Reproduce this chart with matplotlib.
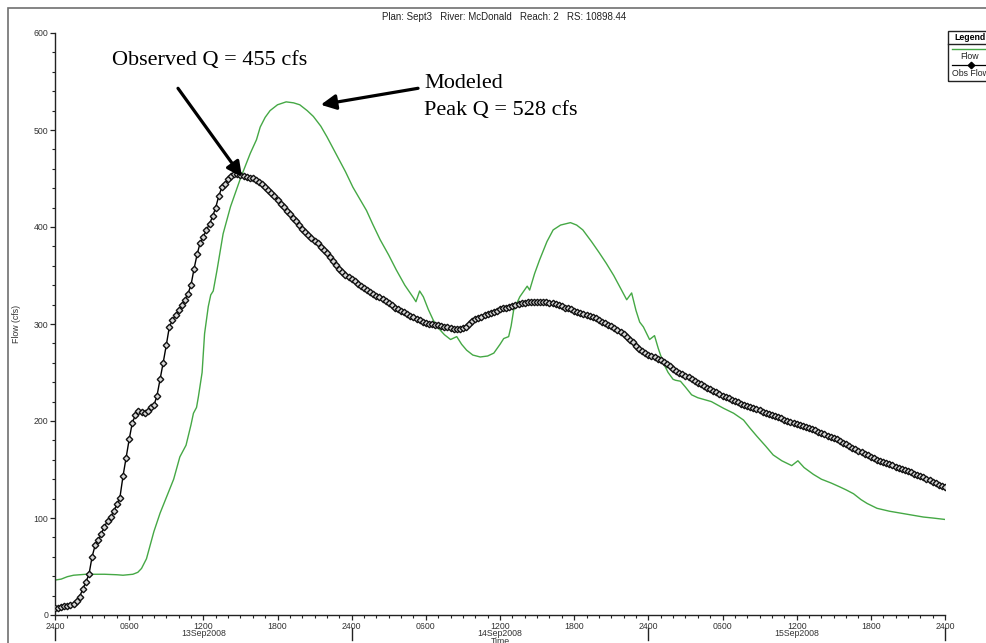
"""Observed vs modeled hydrograph, McDonald reach 2 (HEC-RAS style)."""
import matplotlib
matplotlib.use('Agg')
import matplotlib.pyplot as plt
import matplotlib.transforms as mtransforms
from matplotlib.patches import Rectangle
from matplotlib.lines import Line2D

SANS = 'Liberation Sans'
SERIF = 'Liberation Serif'

# Observed flow, 15-minute values from 13Sep2008 0000 (cfs)
obs_flow = [
    7, 7.5, 8, 9, 9.5, 10, 11, 14, 19, 27, 34, 42,
    60, 72, 77, 84, 91, 97, 101, 107, 114, 121, 143, 162,
    181, 198, 206, 210, 209, 208, 210, 214, 216, 226, 243, 260,
    278, 297, 304, 309, 314, 320, 325, 331, 340, 357, 372, 384,
    390, 397, 403, 411, 420, 432, 441, 444, 449, 453, 455, 455,
    454, 453, 452, 451, 450, 448, 446, 444, 441, 438, 435, 432,
    428, 424, 421, 417, 413, 409, 406, 402, 398, 395, 392, 389,
    386, 383, 379, 376, 373, 369, 365, 361, 357, 354, 351, 348,
    346, 344, 341, 339, 337, 335, 333, 331, 329, 328, 326, 324,
    322, 320, 317, 315, 313, 312, 310, 308, 307, 305, 304, 302,
    301, 300, 300, 299, 299, 298, 297, 297, 296, 295, 295, 295,
    296, 297, 300, 303, 305, 306, 307, 309, 310, 311, 312, 313,
    315, 316, 317, 318, 319, 320, 321, 322, 322, 323, 323, 323,
    323, 323, 323, 323, 322, 322, 321, 320, 319, 317, 316, 315,
    313, 312, 311, 310, 309, 308, 307, 306, 304, 302, 301, 299,
    298, 296, 294, 292, 290, 287, 284, 281, 277, 274, 272, 270,
    268, 267, 266, 264, 263, 261, 259, 257, 254, 252, 250, 248,
    246, 245, 243, 241, 239, 238, 236, 234, 233, 231, 230, 228,
    226, 225, 224, 222, 221, 220, 218, 217, 215, 214, 213, 212,
    211, 209, 208, 207, 206, 205, 204, 203, 201, 200, 199, 198,
    197, 196, 195, 194, 193, 192, 191, 189, 188, 187, 185, 184,
    182, 181, 179, 177, 176, 174, 172, 171, 169, 168, 166, 165,
    163, 162, 160, 159, 158, 157, 156, 155, 153, 152, 151, 150,
    148, 147, 145, 144, 143, 142, 140, 139, 137, 136, 134, 133,
    132,
]
obs_hours = [i * 0.25 for i in range(len(obs_flow))]

# Modeled flow (hours from 13Sep2008 0000, cfs)
mod_hours = [
    0, 0.5, 1.0, 1.5, 2.5, 4.0, 5.0, 5.5, 6.3, 6.7, 7.0, 7.4, 7.7, 8.0, 8.5,
    9.0, 9.6, 10.1, 10.6, 11.0, 11.2, 11.45, 11.6, 11.9, 12.1, 12.4, 12.6,
    12.8, 13.1, 13.6, 14.2, 15.0, 15.8, 16.3, 16.6, 17.0, 17.4, 18.0, 18.7,
    19.3, 19.8, 20.4, 20.9, 21.5, 22.0, 22.5, 23.0, 23.5, 24.1, 24.6, 25.2,
    25.7, 26.3, 27.0, 27.6, 28.3, 29.0, 29.2, 29.5, 29.8, 30.2, 30.6, 31.0,
    31.5, 32.0, 32.5, 32.9, 33.3, 33.8, 34.4, 35.0, 35.5, 36.0, 36.3, 36.7,
    36.9, 37.1, 37.6, 38.2, 38.4, 38.8, 39.2, 39.8, 40.3, 40.9, 41.7, 42.2,
    42.7, 43.4, 44.0, 44.6, 45.2, 45.7, 46.25, 46.65, 47.0, 47.3, 47.6, 48.1,
    48.5, 48.8, 49.2, 49.6, 50.0, 50.2, 50.6, 51.0, 51.5, 52.0, 53.1, 54.1,
    54.9, 55.7, 56.2, 56.8, 57.5, 58.1, 58.8, 59.6, 60.1, 60.6, 61.35, 62.0,
    62.8, 63.5, 64.0, 64.6, 65.2, 65.7, 66.5, 67.5, 68.4, 69.3, 70.25, 71.0,
    72.0,
]
mod_flow = [
    36, 37, 39.5, 41, 42, 42, 41.5, 41, 42, 44, 48, 58, 72, 86, 105,
    121, 140, 163, 175, 196, 208, 214, 225, 250, 290, 318, 330,
    334, 355, 393, 421, 450, 476, 490, 503, 513, 520, 526, 529,
    528, 526, 520, 514, 504, 493, 481, 469, 457, 441, 430, 417,
    403, 387, 371, 356, 340, 327, 323, 334, 328, 315, 304, 296,
    289, 284, 287, 279, 273, 268, 266, 267, 270, 279, 285, 287,
    298, 314, 328, 339, 335, 352, 366, 385, 397, 402, 404.5, 402,
    397, 385, 374, 362.5, 350, 338, 325, 332, 314, 302, 297, 284,
    288, 275, 260, 250, 243, 242, 241, 235, 227, 224, 220, 213,
    208, 201, 193, 184, 174, 165, 159, 154, 159, 152, 145, 140,
    136, 132, 129, 125, 119, 115, 110, 107, 105, 103, 101, 100,
    98.5,
]

tick_hours = list(range(0, 73, 6))
tick_labels = ['2400', '0600', '1200', '1800'] * 3 + ['2400']
day_labels = ['13Sep2008', '14Sep2008', '15Sep2008']
day_centers = [12, 36, 60]
day_bounds = [0, 24, 48, 72]

W, H = 986, 643
fig = plt.figure(figsize=(W / 100, H / 100), dpi=100)
ax = fig.add_axes([55 / W, 1 - 615 / H, 890 / W, 582 / H])

# outer frame
fig.patches.append(Rectangle((8 / W, -0.1), 1.2, 1 - 8 / H + 0.1,
                             transform=fig.transFigure, fill=False,
                             edgecolor='#707070', linewidth=1.2))

ax.plot(mod_hours, mod_flow, color='#45a845', linewidth=1.0, zorder=2)
ax.plot(obs_hours, obs_flow, color='black', linewidth=1.0, marker='D',
        markersize=3.3, markerfacecolor='#d8d8d8', markeredgecolor='#111111',
        markeredgewidth=1.0, zorder=3)

ax.set_xlim(0, 72)
ax.set_ylim(0, 600)
for s in ['top', 'right']:
    ax.spines[s].set_visible(False)
for s in ['left', 'bottom']:
    ax.spines[s].set_color('#222222')
    ax.spines[s].set_linewidth(1.0)

ax.set_xticks(tick_hours)
ax.set_xticklabels(tick_labels, fontsize=6.3, family=SANS, color='#333333')
ax.set_xticks(range(0, 73), minor=True)
ax.set_yticks(range(0, 601, 100))
ax.set_yticklabels([str(v) for v in range(0, 601, 100)], fontsize=6.3,
                   family=SANS, color='#333333')
ax.set_yticks(range(0, 601, 20), minor=True)
ax.tick_params(which='major', length=3.8, width=0.9, color='#222222', pad=1)
ax.tick_params(which='minor', length=2.4, width=0.8, color='#222222')

ax.set_ylabel('Flow (cfs)', fontsize=6.3, family=SANS, color='#333333')
ax.yaxis.set_label_coords(-34 / 890, 0.5)

# date labels and long day ticks under the axis
bt = mtransforms.blended_transform_factory(ax.transData, fig.transFigure)
for c, lab in zip(day_centers, day_labels):
    ax.text(c, 1 - 634 / H, lab, transform=bt, ha='center', va='center',
            fontsize=6.3, family=SANS, color='#333333')
for b in day_bounds:
    ax.add_line(Line2D([b, b], [1 - 628 / H, 1 - 640 / H], transform=bt,
                       color='#222222', linewidth=1.0, clip_on=False))
ax.text(36, 1 - 641 / H, 'Time', transform=bt, ha='center', va='center',
        fontsize=6.3, family=SANS, color='#333333')

fig.text(504 / W, 1 - 17 / H,
         'Plan: Sept3   River: McDonald   Reach: 2   RS: 10898.44',
         ha='center', va='center', fontsize=7, family=SANS, color='#222222')

# annotations
ax.text(4.6, 572, 'Observed Q = 455 cfs', fontsize=16, family=SERIF,
        ha='left', va='center')
ax.text(29.85, 548, 'Modeled', fontsize=16, family=SERIF,
        ha='left', va='center')
ax.text(29.85, 520.6, 'Peak Q = 528 cfs', fontsize=16, family=SERIF,
        ha='left', va='center')
arrow = dict(arrowstyle='-|>,head_length=0.9,head_width=0.45', color='black',
             linewidth=2.3, shrinkA=0, shrinkB=0)
ax.annotate('', xy=(15.13, 451.5), xytext=(9.95, 543), arrowprops=arrow)
ax.annotate('', xy=(21.5, 526), xytext=(29.37, 543), arrowprops=arrow)

# legend box (partly clipped at right edge, as in the original)
fig.patches.append(Rectangle((948 / W, 1 - 81 / H), 60 / W, 50 / H,
                             transform=fig.transFigure, fill=False,
                             edgecolor='#222222', linewidth=1.0))
fig.lines.append(Line2D([948 / W, 1.05], [1 - 43.5 / H] * 2,
                        transform=fig.transFigure, color='#222222', linewidth=1.0))
fig.text(970 / W, 1 - 37.5 / H, 'Legend', fontsize=6.3, family=SANS,
         weight='bold', ha='center', va='center')
fig.lines.append(Line2D([952 / W, 990 / W], [1 - 48.5 / H] * 2,
                        transform=fig.transFigure, color='#45a845', linewidth=1.0))
fig.text(970 / W, 1 - 56.5 / H, 'Flow', fontsize=6.3, family=SANS,
         ha='center', va='center', color='#222222')
fig.lines.append(Line2D([952 / W, 990 / W], [1 - 65 / H] * 2,
                        transform=fig.transFigure, color='black', linewidth=0.9))
fig.lines.append(Line2D([971 / W], [1 - 65 / H], transform=fig.transFigure,
                        marker='D', markersize=3.3, markerfacecolor='black',
                        markeredgecolor='black', linestyle='none'))
fig.text(952 / W, 1 - 73.5 / H, 'Obs Flow', fontsize=6.3, family=SANS,
         ha='left', va='center', color='#222222')

fig.savefig('out.png', dpi=100)
